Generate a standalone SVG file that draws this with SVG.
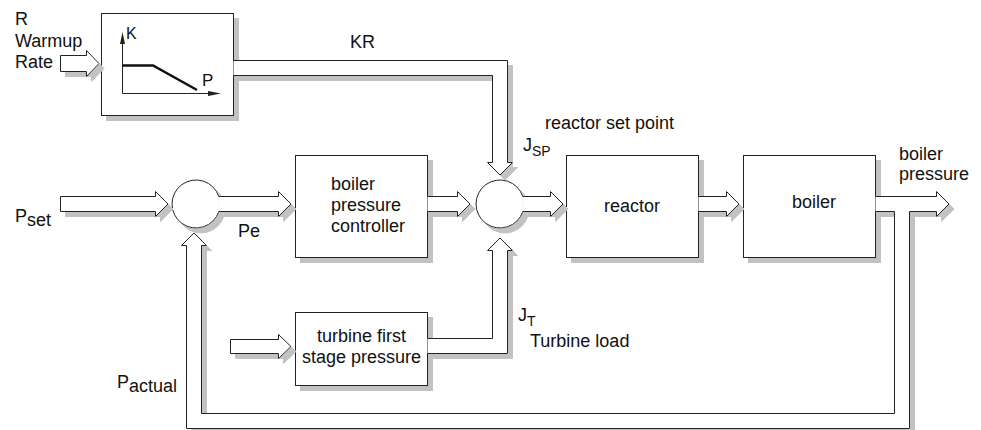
<svg xmlns="http://www.w3.org/2000/svg" width="981" height="430" viewBox="0 0 981 430">
<defs>
<filter id="sh" filterUnits="userSpaceOnUse" x="0" y="0" width="981" height="430">
<feFlood flood-color="#c2c2c2" result="f"/>
<feComposite in="f" in2="SourceAlpha" operator="in" result="s"/>
<feOffset in="s" dx="5" dy="5" result="o"/>
<feMerge><feMergeNode in="o"/><feMergeNode in="SourceGraphic"/></feMerge>
</filter>
</defs>
<style>
.s{fill:#fff;stroke:#222;stroke-width:1;filter:url(#sh)}
.t{font-family:"Liberation Sans",Arial,sans-serif;font-size:18px;fill:#111}
.sub{font-size:14px}
.ax{stroke:#222;stroke-width:1;fill:none}
.hd{fill:#222;stroke:none}
</style>
<rect width="981" height="430" fill="#fff"/>

<g id="warmup-label">
<text class="t" x="15" y="25">R</text>
<text class="t" x="15" y="47">Warmup</text>
<text class="t" x="15" y="68">Rate</text>
</g>

<g id="k-block">
<rect class="s" x="101.5" y="13.5" width="132" height="102"/>
<line class="ax" x1="122.5" y1="93.5" x2="122.5" y2="42"/>
<polygon class="hd" points="122.5,32 120,44 125,44"/>
<line class="ax" x1="122.5" y1="93.5" x2="210" y2="93.5"/>
<polygon class="hd" points="221,93.5 208,91 208,96"/>
<polyline points="122.5,65.5 153,65.5 197,90" fill="none" stroke="#111" stroke-width="2.5"/>
<text class="t" x="126" y="39" style="font-size:16px">K</text>
<text class="t" x="202" y="86" style="font-size:17px">P</text>
</g>

<g id="sum1">
<path class="s" d="M218.8,211.5 A24,24 0 1 1 218.8,196.5"/>
</g>

<g id="sum2">
<path class="s" d="M522.8,211.5 A24,24 0 1 1 522.8,196.5"/>
</g>

<g id="controller">
<rect class="s" x="295.5" y="155.5" width="132" height="102"/>
<text class="t" x="331" y="190">boiler</text>
<text class="t" x="331" y="211">pressure</text>
<text class="t" x="331" y="232">controller</text>
</g>

<g id="reactor">
<rect class="s" x="566.5" y="155.5" width="132" height="102"/>
<text class="t" x="632" y="212" text-anchor="middle">reactor</text>
</g>

<g id="boiler">
<rect class="s" x="743.5" y="155.5" width="132" height="102"/>
<text class="t" x="792" y="208">boiler</text>
</g>

<g id="turbine">
<rect class="s" x="295.5" y="312.5" width="132" height="73"/>
<text class="t" x="361.5" y="342" text-anchor="middle">turbine first</text>
<text class="t" x="361.5" y="363" text-anchor="middle">stage pressure</text>
</g>

<g id="connectors">
<path class="s" d="M60.5,55.5 H86.5 V50.5 L99,63.5 L86.5,76.5 V71.5 H60.5 Z"/>
<path class="s" d="M233.5,60.5 H507.5 V162.5 H512.5 L500,175 L487.5,162.5 H492.5 V75.5 H233.5"/>
<path class="s" d="M60.5,196.5 H155.5 V191.5 L168,204 L155.5,216.5 V211.5 H60.5 Z"/>
<path class="s" d="M218.8,196.5 H278.5 V191.5 L291,204 L278.5,216.5 V211.5 H218.8"/>
<path class="s" d="M427.5,196.5 H457.5 V191.5 L470,204 L457.5,216.5 V211.5 H427.5"/>
<path class="s" d="M522.8,196.5 H550.5 V191.5 L563,204 L550.5,216.5 V211.5 H522.8"/>
<path class="s" d="M698.5,196.5 H726.5 V191.5 L739,204 L726.5,216.5 V211.5 H698.5"/>
<path class="s" d="M875.5,196.5 H936.5 V191.5 L949,204 L936.5,216.5 V211.5 H909.5 V428.5 H186.5 V245.5 H181.5 L194,233 L206.5,245.5 H201.5 V413.5 H894.5 V211.5 H875.5"/>
<path class="s" d="M427.5,338.5 H492.5 V250.5 H487.5 L500,238 L512.5,250.5 H507.5 V353.5 H427.5"/>
<path class="s" d="M230.5,339.5 H278.5 V334.5 L291,346.5 L278.5,358.5 V353.5 H230.5 Z"/>
</g>

<g id="labels">
<text class="t" x="350" y="48">KR</text>
<text class="t" x="545" y="129">reactor set point</text>
<text class="t" x="523" y="151">J<tspan class="sub" dy="5">SP</tspan></text>
<text class="t" x="15" y="222">P<tspan dy="4">set</tspan></text>
<text class="t" x="238" y="237">Pe</text>
<text class="t" x="899" y="160">boiler</text>
<text class="t" x="899" y="180">pressure</text>
<text class="t" x="518" y="321">J<tspan class="sub" dy="5">T</tspan></text>
<text class="t" x="530" y="347">Turbine load</text>
<text class="t" x="117" y="388">P<tspan dy="4">actual</tspan></text>
</g>
</svg>
